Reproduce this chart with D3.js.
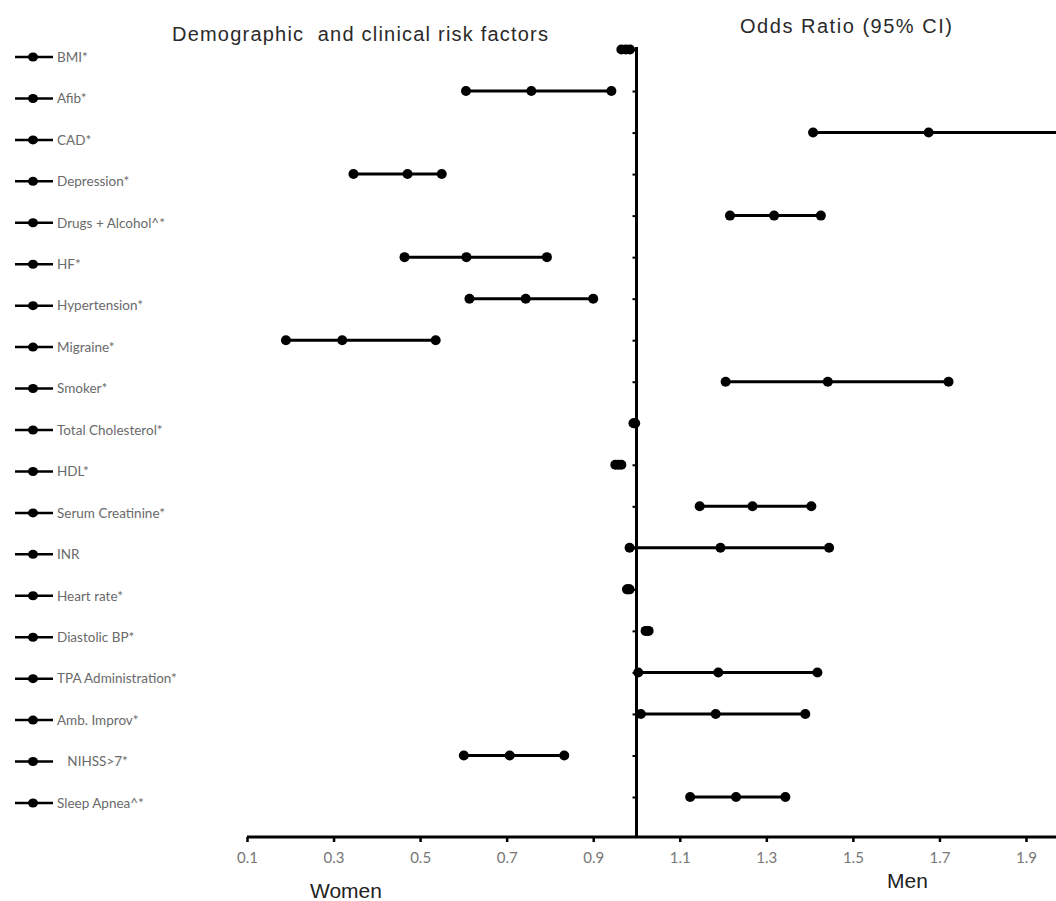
<!DOCTYPE html>
<html>
<head>
<meta charset="utf-8">
<script src="https://d3js.org/d3.v7.min.js"></script>
<style>
  body { margin: 0; background: #fff; }
  .row-label { font-family: Lato, "Open Sans", sans-serif; font-size: 13.5px; fill: #6a6a6a; white-space: pre; }
  .title { font-family: "Liberation Sans", Arial, sans-serif; font-size: 20px; fill: #2a2a2a; }
  .sex-label { font-family: "Liberation Sans", Arial, sans-serif; font-size: 21px; fill: #222; }
  .x-axis text { font-family: Lato, sans-serif; font-size: 15px; fill: #777; }
</style>
</head>
<body>
<div id="plot-div"></div>
<script>
// risk factors, top to bottom
var factors = ["BMI*", "Afib*", "CAD*", "Depression*", "Drugs + Alcohol^*", "HF*",
  "Hypertension*", "Migraine*", "Smoker*", "Total Cholesterol*", "HDL*",
  "Serum Creatinine*", "INR", "Heart rate*", "Diastolic BP*", "TPA Administration*",
  "Amb. Improv*", "   NIHSS>7*", "Sleep Apnea^*"];

// odds ratios and 95% CI
var oddsRatio = [0.975, 0.757, 1.675, 0.471, 1.318, 0.607, 0.744, 0.320, 1.442, 0.995,
  0.958, 1.268, 1.194, 0.981, 1.024, 1.189, 1.183, 0.707, 1.230];
var lowerCI = [0.965, 0.606, 1.408, 0.346, 1.216, 0.464, 0.614, 0.190, 1.206, 0.993,
  0.951, 1.146, 0.984, 0.978, 1.021, 1.004, 1.010, 0.601, 1.124];
var upperCI = [0.985, 0.942, 2.0, 0.550, 1.426, 0.793, 0.900, 0.536, 1.721, 0.997,
  0.965, 1.404, 1.445, 0.984, 1.028, 1.418, 1.390, 0.833, 1.344];

var xTicks = [0.1, 0.3, 0.5, 0.7, 0.9, 1.1, 1.3, 1.5, 1.7, 1.9];

function ForestPlot(){
  var self = this;
  self.width = 1056;
  self.height = 901;
  self.init();
}; // end constructor

ForestPlot.prototype.init = function(){
  var self = this;

  self.svg = d3.select("#plot-div").append("svg")
      .attr("width", self.width)
      .attr("height", self.height);

  self.x = d3.scaleLinear().domain([0.1, 1.9]).range([247, 1026]);
  // rows of the plot
  self.y = d3.scalePoint().domain(factors).range([49.5, 797]);
  // rows of the label list on the left (sits a bit lower)
  self.yLabel = d3.scalePoint().domain(factors).range([57, 803]);
  self.axisY = 837;

  self.data = factors.map(function(f, i){
    return {name: f, or: oddsRatio[i], lo: lowerCI[i], hi: upperCI[i]};
  });

  self.update();
}; // end init()

ForestPlot.prototype.update = function(){
  var self = this;
  var x = self.x, y = self.y;

  // titles
  self.svg.append("text").attr("class", "title")
      .attr("x", 172).attr("y", 41)
      .attr("textLength", 376).attr("lengthAdjust", "spacing")
      .style("white-space", "pre")
      .text("Demographic  and clinical risk factors");
  self.svg.append("text").attr("class", "title")
      .attr("x", 740).attr("y", 33)
      .attr("textLength", 212).attr("lengthAdjust", "spacing")
      .text("Odds Ratio (95% CI)");

  // label list with little dumbbell markers
  var lab = self.svg.append("g").selectAll("g")
      .data(self.data)
      .enter().append("g")
      .attr("transform", function(d){ return "translate(0," + self.yLabel(d.name) + ")"; });
  lab.append("line")
      .attr("x1", 15).attr("x2", 53)
      .attr("stroke", "#000").attr("stroke-width", 2.5);
  lab.append("ellipse")
      .attr("cx", 33).attr("rx", 5).attr("ry", 4.5)
      .attr("fill", "#000");
  lab.append("text").attr("class", "row-label")
      .attr("x", 57).attr("dy", "0.35em")
      .text(function(d){ return d.name; });

  // x axis
  var xAxis = self.svg.append("g")
      .attr("class", "x-axis")
      .attr("transform", "translate(0," + self.axisY + ")")
      .call(d3.axisBottom(x).tickValues(xTicks).tickSize(5).tickPadding(10)
            .tickFormat(d3.format(".1f")));
  xAxis.select(".domain").remove();
  xAxis.selectAll(".tick line").attr("stroke", "#000").attr("stroke-width", 2.5);
  xAxis.append("line")
      .attr("x1", x(0.1)).attr("x2", x(1.97))
      .attr("stroke", "#000").attr("stroke-width", 3);

  // vertical reference line at OR = 1 with small row ticks
  var yAxis = self.svg.append("g")
      .attr("transform", "translate(" + x(1) + ",0)")
      .call(d3.axisLeft(y).tickSize(4).tickSizeOuter(0).tickFormat(""));
  yAxis.select(".domain").remove();
  yAxis.selectAll(".tick line").attr("stroke", "#000").attr("stroke-width", 2);
  yAxis.append("line")
      .attr("y1", 47).attr("y2", self.axisY)
      .attr("stroke", "#000").attr("stroke-width", 3);

  // CI segments
  var rows = self.svg.append("g").selectAll("g")
      .data(self.data)
      .enter().append("g")
      .attr("transform", function(d){ return "translate(0," + y(d.name) + ")"; });
  rows.append("line")
      .attr("x1", function(d){ return x(d.lo); })
      .attr("x2", function(d){ return x(d.hi); })
      .attr("stroke", "#000").attr("stroke-width", 3);
  // lower, OR, upper points
  rows.selectAll("circle")
      .data(function(d){ return [d.lo, d.or, d.hi]; })
      .enter().append("circle")
      .attr("cx", function(v){ return x(v); })
      .attr("r", 5)
      .attr("fill", "#000");

  // sex labels
  self.svg.append("text").attr("class", "sex-label")
      .attr("x", 310).attr("y", 898).text("Women");
  self.svg.append("text").attr("class", "sex-label")
      .attr("x", 887).attr("y", 888).text("Men");
}; // end update()

var plot = new ForestPlot();
</script>
</body>
</html>
